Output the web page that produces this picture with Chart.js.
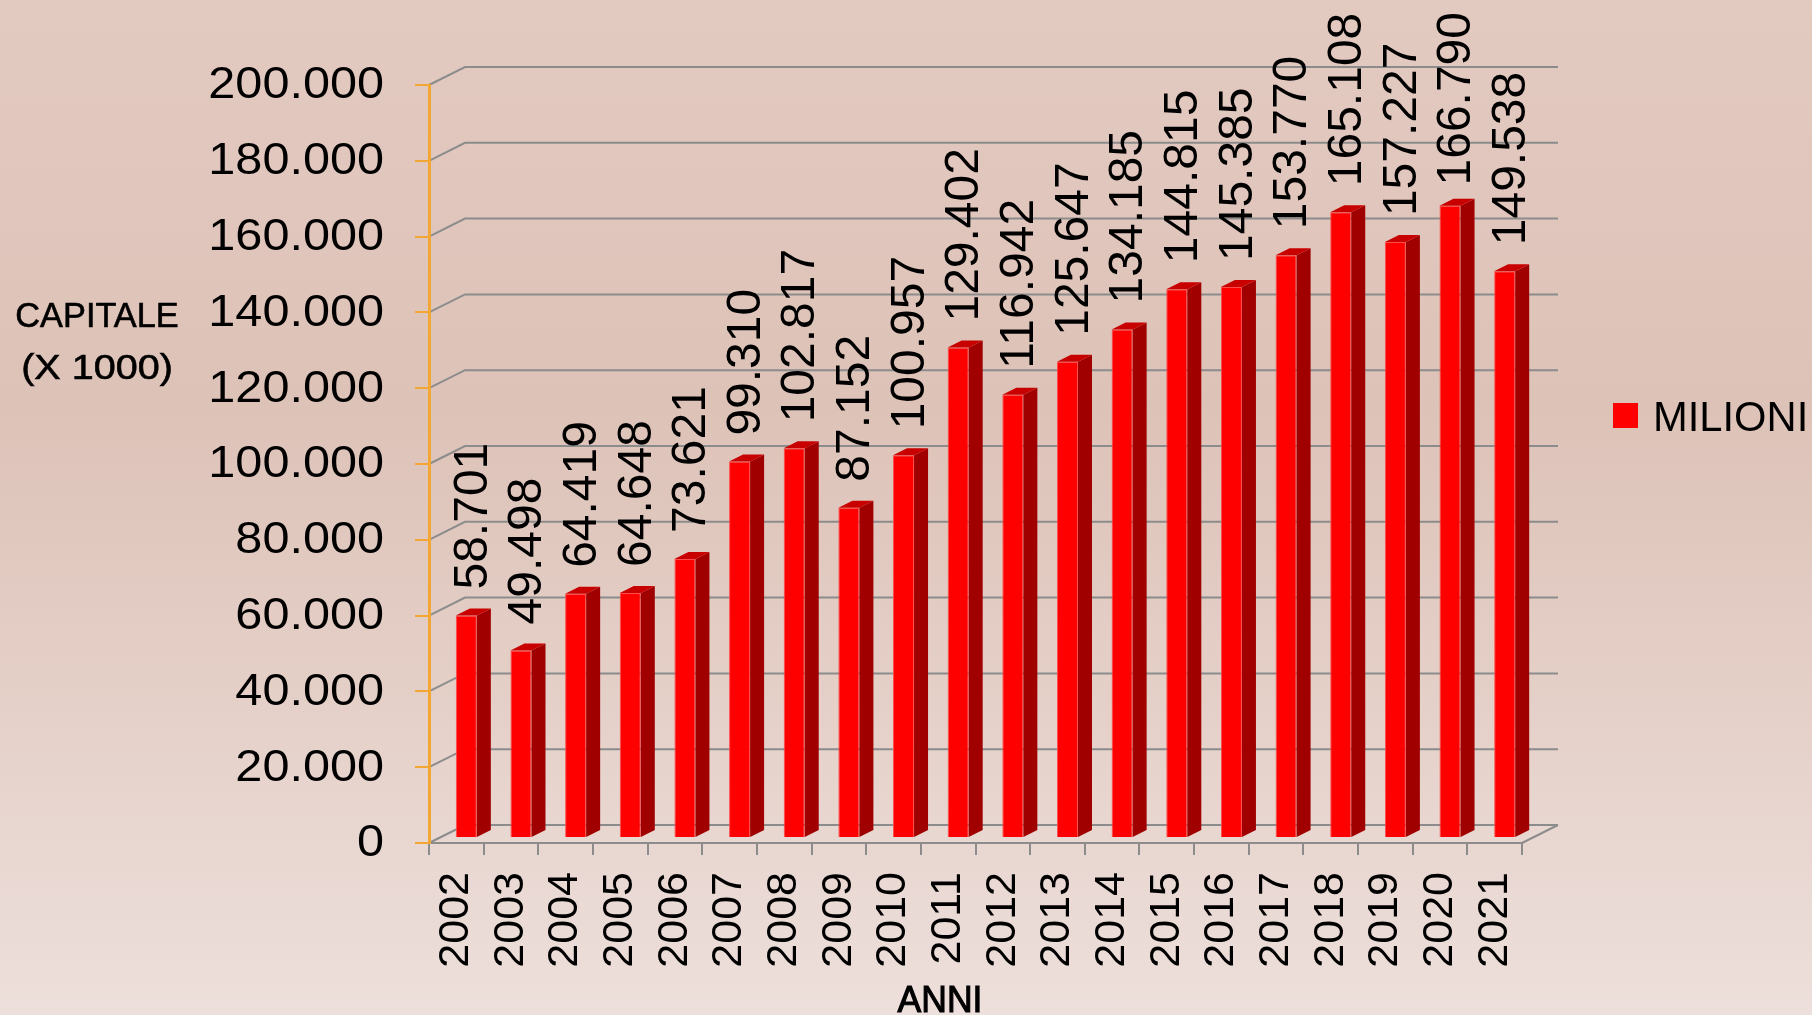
<!DOCTYPE html>
<html>
<head>
<meta charset="utf-8">
<script src="https://cdn.jsdelivr.net/npm/chart.js@4.4.1/dist/chart.umd.min.js"></script>
<style>
  html, body { margin: 0; padding: 0; overflow: hidden; }
  #wrap { width: 1812px; height: 1015px; position: relative; }
</style>
</head>
<body>
<div id="wrap"><canvas id="chart"></canvas></div>
<script>
// dati: capitale per anno (valori in migliaia)
const anni = ["2002", "2003", "2004", "2005", "2006", "2007", "2008", "2009", "2010", "2011",
  "2012", "2013", "2014", "2015", "2016", "2017", "2018", "2019", "2020", "2021"];
const capitale = [58701, 49498, 64419, 64648, 73621, 99310, 102817, 87152, 100957, 129402,
  116942, 125647, 134185, 144815, 145385, 153770, 165108, 157227, 166790, 149538];
const yMin = 0;
const yMax = 200000;
const yStep = 20000;
const serieNome = "MILIONI";
const titoloY = ["CAPITALE", "(X 1000)"];
const titoloX = "ANNI";

const FONT = "'Liberation Sans', Arial, sans-serif";
const GRIGIO = "#8c8c8c";
const ARANCIO = "#f2a634";

// profondita' finta 3D
const wall = { dx: 36, dy: -18 };
const shift = { dx: 10, dy: -5 };
const bar3d = { dx: 14, dy: -7 };

function fmt(v) {
  return String(Math.round(v)).replace(/\B(?=(\d{3})+(?!\d))/g, ".");
}

// testo con allargamento orizzontale (il font originale ha cifre piu' larghe)
function testoLargo(ctx, txt, x, y, sx, stroke) {
  ctx.save();
  ctx.translate(x, y);
  ctx.scale(sx, 1);
  ctx.fillText(txt, 0, 0);
  if (stroke) {
    ctx.lineWidth = stroke;
    ctx.strokeStyle = ctx.fillStyle;
    ctx.strokeText(txt, 0, 0);
  }
  ctx.restore();
}

const sfondo = {
  id: "sfondo",
  beforeDraw(chart) {
    const { ctx, width, height, chartArea, scales } = chart;
    const g = ctx.createLinearGradient(0, 0, 0, height);
    g.addColorStop(0, "#e3cac1");
    g.addColorStop(0.4, "#ddc2b7");
    g.addColorStop(1, "#eddfdb");
    ctx.save();
    ctx.fillStyle = g;
    ctx.fillRect(0, 0, width, height);

    // parete di fondo con griglia
    const y = scales.y;
    ctx.strokeStyle = GRIGIO;
    ctx.lineWidth = 2;
    y.ticks.forEach(t => {
      const py = y.getPixelForValue(t.value);
      ctx.beginPath();
      ctx.moveTo(chartArea.left, py);
      ctx.lineTo(chartArea.left + wall.dx, py + wall.dy);
      ctx.lineTo(chartArea.right + wall.dx, py + wall.dy);
      ctx.stroke();
    });
    const py0 = y.getPixelForValue(0);
    ctx.beginPath();
    ctx.moveTo(chartArea.right, py0);
    ctx.lineTo(chartArea.right + wall.dx, py0 + wall.dy);
    ctx.stroke();
    ctx.restore();
  }
};

const barre3d = {
  id: "barre3d",
  beforeDatasetsDraw(chart) {
    chart.ctx.save();
    chart.ctx.translate(shift.dx, shift.dy);
  },
  afterDatasetsDraw(chart) {
    const ctx = chart.ctx;
    const meta = chart.getDatasetMeta(0);
    meta.data.forEach(el => {
      const p = el.getProps(["x", "y", "base", "width"], true);
      const x1 = p.x - p.width / 2, x2 = p.x + p.width / 2;
      // lato
      ctx.fillStyle = "#a00000";
      ctx.beginPath();
      ctx.moveTo(x2, p.y);
      ctx.lineTo(x2 + bar3d.dx, p.y + bar3d.dy);
      ctx.lineTo(x2 + bar3d.dx, p.base + bar3d.dy);
      ctx.lineTo(x2, p.base);
      ctx.closePath();
      ctx.fill();
      // cima
      ctx.fillStyle = "#c80000";
      ctx.beginPath();
      ctx.moveTo(x1, p.y);
      ctx.lineTo(x1 + bar3d.dx, p.y + bar3d.dy);
      ctx.lineTo(x2 + bar3d.dx, p.y + bar3d.dy);
      ctx.lineTo(x2, p.y);
      ctx.closePath();
      ctx.fill();
    });
    ctx.restore();

    // etichette dei valori, ruotate
    ctx.save();
    ctx.font = "48px " + FONT;
    ctx.fillStyle = "#000";
    ctx.textAlign = "left";
    ctx.textBaseline = "middle";
    meta.data.forEach((el, i) => {
      const p = el.getProps(["x", "y"], true);
      const txt = fmt(capitale[i]);
      const w = ctx.measureText(txt).width;
      const cx = p.x + shift.dx + bar3d.dx / 2;
      let sy = p.y + shift.dy - 26;
      if (sy - w < 12) sy = 12 + w;
      ctx.save();
      ctx.translate(cx, sy);
      ctx.rotate(-Math.PI / 2);
      ctx.fillText(txt, 0, 0);
      ctx.restore();
    });
    ctx.restore();
  }
};

// etichette asse y, leggermente allargate
const etichetteY = {
  id: "etichetteY",
  afterDraw(chart) {
    const ctx = chart.ctx;
    const y = chart.scales.y;
    ctx.save();
    ctx.fillStyle = "#000";
    ctx.textAlign = "right";
    ctx.textBaseline = "middle";
    ctx.font = "45px " + FONT;
    y.ticks.forEach(t => {
      testoLargo(ctx, fmt(t.value), 384, y.getPixelForValue(t.value) + 1, 1.08, 0);
    });
    ctx.restore();
  }
};

const testi = {
  id: "testi",
  afterDraw(chart) {
    const ctx = chart.ctx;
    ctx.save();
    ctx.fillStyle = "#000";
    ctx.textAlign = "center";
    ctx.textBaseline = "alphabetic";
    ctx.font = "35px " + FONT;
    testoLargo(ctx, titoloY[0], 97, 327, 0.98, 0.6);
    testoLargo(ctx, titoloY[1], 97, 379, 1.13, 0.6);
    ctx.font = "37px " + FONT;
    testoLargo(ctx, titoloX, 940, 1012, 0.96, 1.1);

    // legenda
    ctx.fillStyle = "#ff0000";
    ctx.fillRect(1613, 403, 25, 25);
    ctx.fillStyle = "#000";
    ctx.textAlign = "left";
    ctx.font = "43px " + FONT;
    testoLargo(ctx, serieNome, 1653, 431, 0.97, 0);
    ctx.restore();
  }
};

new Chart(document.getElementById("chart"), {
  type: "bar",
  data: {
    labels: anni,
    datasets: [{
      label: serieNome,
      data: capitale,
      backgroundColor: "#ff0000",
      borderColor: "#ff4d4d",
      borderWidth: 1,
      barPercentage: 0.385,
      categoryPercentage: 1,
      clip: false
    }]
  },
  options: {
    responsive: true,
    maintainAspectRatio: false,
    animation: false,
    layout: { padding: { left: 0, top: 85, right: 290, bottom: 0 } },
    plugins: {
      legend: { display: false },
      tooltip: { enabled: false }
    },
    scales: {
      x: {
        grid: { drawOnChartArea: false, color: GRIGIO, lineWidth: 2, tickLength: 12, offset: true },
        border: { color: GRIGIO, width: 2 },
        ticks: { color: "#000", font: { family: FONT, size: 43 }, minRotation: 90, maxRotation: 90, padding: 17, autoSkip: false },
        afterFit(s) { s.height = 172; }
      },
      y: {
        min: yMin,
        max: yMax,
        grid: { drawOnChartArea: false, color: ARANCIO, lineWidth: 2, tickLength: 14 },
        border: { color: ARANCIO, width: 3 },
        ticks: { stepSize: yStep, display: false },
        afterFit(s) { s.width = 429; }
      }
    }
  },
  plugins: [sfondo, barre3d, etichetteY, testi]
});
</script>
</body>
</html>
